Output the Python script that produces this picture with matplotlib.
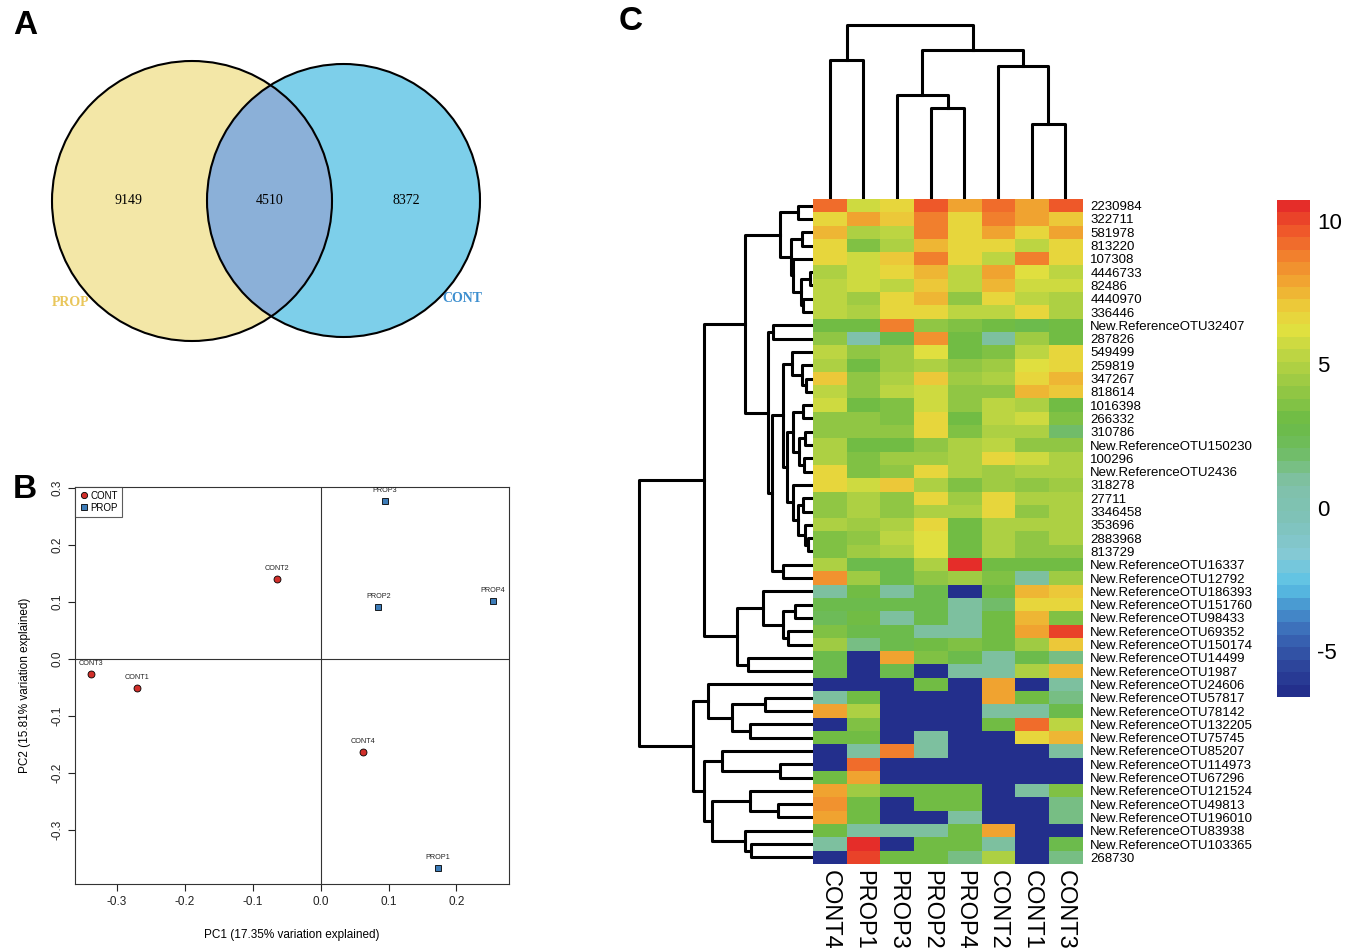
import numpy as np
import matplotlib
matplotlib.use('Agg')
import matplotlib.pyplot as plt
from matplotlib.patches import Circle
from matplotlib.colors import LinearSegmentedColormap

plt.rcParams['font.family'] = ['Liberation Sans', 'DejaVu Sans']
plt.rcParams['axes.unicode_minus'] = False

W, H = 1353, 952

# ---------------- A: venn
venn_sets = ['PROP', 'CONT']
venn_counts = [9149, 4510, 8372]   # PROP only, shared, CONT only

# ---------------- B: PCoA
pc1_label = 'PC1 (17.35% variation explained)'
pc2_label = 'PC2 (15.81% variation explained)'
cont_names = ['CONT1', 'CONT2', 'CONT3', 'CONT4']
cont_pc1 = [-0.270, -0.064, -0.338, 0.062]
cont_pc2 = [-0.051, 0.140, -0.026, -0.163]
prop_names = ['PROP1', 'PROP2', 'PROP3', 'PROP4']
prop_pc1 = [0.173, 0.085, 0.095, 0.254]
prop_pc2 = [-0.366, 0.091, 0.276, 0.101]

# ---------------- C: heatmap (columns/rows in dendrogram order)
samples = ['CONT4', 'PROP1', 'PROP3', 'PROP2', 'PROP4', 'CONT2', 'CONT1', 'CONT3']
otus = ['2230984', '322711', '581978', '813220', '107308', '4446733', '82486',
        '4440970', '336446', 'New.ReferenceOTU32407', '287826', '549499', '259819',
        '347267', '818614', '1016398', '266332', '310786', 'New.ReferenceOTU150230',
        '100296', 'New.ReferenceOTU2436', '318278', '27711', '3346458', '353696',
        '2883968', '813729', 'New.ReferenceOTU16337', 'New.ReferenceOTU12792',
        'New.ReferenceOTU186393', 'New.ReferenceOTU151760', 'New.ReferenceOTU98433',
        'New.ReferenceOTU69352', 'New.ReferenceOTU150174', 'New.ReferenceOTU14499',
        'New.ReferenceOTU1987', 'New.ReferenceOTU24606', 'New.ReferenceOTU57817',
        'New.ReferenceOTU78142', 'New.ReferenceOTU132205', 'New.ReferenceOTU75745',
        'New.ReferenceOTU85207', 'New.ReferenceOTU114973', 'New.ReferenceOTU67296',
        'New.ReferenceOTU121524', 'New.ReferenceOTU49813', 'New.ReferenceOTU196010',
        'New.ReferenceOTU83938', 'New.ReferenceOTU103365', '268730']

abund = [
    [9.0, 5.8, 6.5, 9.8, 8.0, 9.3, 7.8, 9.8],
    [6.5, 7.8, 7.2, 8.8, 6.5, 8.8, 7.8, 7.2],
    [7.3, 4.8, 5.3, 8.8, 6.8, 8.0, 6.5, 8.0],
    [6.5, 3.5, 4.8, 7.5, 6.5, 6.5, 5.3, 6.5],
    [6.5, 5.8, 7.0, 8.8, 6.5, 5.3, 8.8, 6.5],
    [5.0, 5.8, 6.5, 7.5, 5.5, 7.8, 6.3, 5.3],
    [5.3, 5.8, 5.3, 7.0, 5.3, 7.6, 5.8, 5.8],
    [5.5, 4.6, 6.5, 7.5, 4.0, 6.5, 5.5, 4.8],
    [5.3, 5.0, 6.5, 6.5, 5.3, 5.3, 6.8, 4.8],
    [3.3, 3.3, 8.8, 3.8, 3.5, 3.3, 2.8, 3.3],
    [3.8, 0.5, 2.5, 8.5, 3.3, 0.8, 4.5, 3.0],
    [5.5, 4.0, 4.5, 6.3, 3.3, 3.5, 5.3, 6.5],
    [5.0, 3.3, 4.5, 5.0, 4.0, 4.3, 6.3, 6.5],
    [7.0, 4.0, 4.8, 7.0, 4.3, 4.8, 6.5, 7.6],
    [5.2, 4.0, 5.3, 5.8, 4.2, 4.0, 7.5, 7.0],
    [5.8, 3.3, 3.5, 5.8, 3.8, 5.3, 5.0, 3.3],
    [4.2, 3.8, 3.5, 6.5, 3.3, 5.3, 5.8, 3.5],
    [4.2, 3.8, 4.0, 6.5, 3.5, 4.8, 4.8, 2.0],
    [5.0, 3.3, 3.3, 3.8, 5.0, 5.5, 4.2, 4.2],
    [5.0, 3.5, 4.5, 4.5, 5.0, 6.5, 5.8, 4.8],
    [6.5, 3.5, 4.2, 6.5, 5.0, 4.5, 5.0, 4.8],
    [6.5, 5.8, 7.2, 4.8, 3.5, 4.5, 4.2, 4.5],
    [4.0, 4.8, 4.2, 6.5, 4.5, 6.5, 4.8, 5.0],
    [3.8, 4.8, 4.2, 5.0, 4.8, 6.5, 3.8, 5.0],
    [4.8, 4.5, 5.0, 6.5, 3.3, 5.0, 4.8, 5.0],
    [3.5, 4.2, 5.5, 6.3, 3.3, 4.8, 3.8, 5.0],
    [3.5, 4.3, 4.8, 6.3, 3.3, 5.0, 4.2, 4.2],
    [5.0, 2.8, 2.8, 4.8, 10.5, 3.3, 3.3, 3.3],
    [8.3, 4.5, 2.5, 3.8, 4.5, 3.5, 0.8, 4.3],
    [1.0, 3.0, 1.0, 2.8, -6.5, 3.0, 7.5, 7.0],
    [2.8, 2.5, 2.5, 2.8, 1.0, 2.0, 6.5, 6.5],
    [2.3, 3.3, 1.0, 2.8, 1.0, 3.0, 7.5, 3.5],
    [3.5, 2.5, 2.5, 1.0, 1.0, 3.0, 8.0, 10.0],
    [4.3, 1.2, 2.5, 3.3, 3.5, 3.3, 4.5, 7.0],
    [2.8, -6.5, 7.8, 3.5, 2.8, 1.0, 2.8, 1.2],
    [2.8, -6.5, 2.5, -6.5, 1.0, 1.0, 5.0, 7.5],
    [-6.5, -6.5, -6.5, 3.0, -6.5, 7.8, -6.5, 1.0],
    [1.0, 3.0, -6.5, -6.5, -6.5, 7.8, 3.0, 1.2],
    [7.8, 4.8, -6.5, -6.5, -6.5, 1.0, 1.0, 2.8],
    [-6.5, 3.5, -6.5, -6.5, -6.5, 3.0, 9.0, 5.5],
    [3.0, 3.0, -6.5, 1.0, -6.5, -6.5, 6.8, 7.5],
    [-6.5, 1.0, 8.8, 1.0, -6.5, -6.5, -6.5, 1.0],
    [-6.5, 9.0, -6.5, -6.5, -6.5, -6.5, -6.5, -6.5],
    [3.0, 7.8, -6.5, -6.5, -6.5, -6.5, -6.5, -6.5],
    [7.8, 4.5, 3.0, 3.3, 3.0, -6.5, 1.0, 3.5],
    [8.2, 3.3, -6.5, 3.3, 3.3, -6.5, -6.5, 1.2],
    [7.8, 3.3, -6.5, -6.5, 1.0, -6.5, -6.5, 1.2],
    [3.0, 1.0, 1.0, 1.0, 3.0, 7.8, -6.5, -6.5],
    [1.0, 10.7, -6.5, 3.0, 3.0, 1.0, -6.5, 2.8],
    [-6.5, 10.2, 3.0, 3.0, 1.2, 4.8, -6.5, 1.2],
]

# merges like a linkage table: (child a, child b, height); leaves are 0..n-1,
# merge k becomes node n+k
row_merges = [
    (0, 1, 15), (2, 3, 11), (5, 6, 3), (7, 8, 10), (52, 53, 12), (4, 54, 20),
    (51, 55, 22), (50, 56, 33), (9, 10, 40), (13, 14, 7), (12, 59, 11),
    (11, 60, 21), (15, 16, 10), (17, 18, 8), (19, 20, 9), (63, 64, 14),
    (62, 65, 20), (22, 23, 10), (25, 26, 5), (24, 68, 8), (67, 69, 15),
    (21, 70, 20), (66, 71, 26), (61, 72, 30), (27, 28, 30), (73, 74, 41),
    (58, 75, 45), (57, 76, 68), (30, 31, 18), (32, 33, 25), (78, 79, 30),
    (29, 80, 50), (34, 35, 65), (81, 82, 76), (77, 83, 109), (37, 38, 48),
    (39, 40, 63), (85, 86, 81), (36, 87, 105), (42, 43, 33), (41, 89, 91),
    (45, 46, 35), (44, 91, 63), (48, 49, 62), (47, 93, 68), (92, 94, 101),
    (90, 95, 109), (88, 96, 120), (84, 97, 174),
]
col_merges = [
    (0, 1, 139), (3, 4, 91), (2, 9, 104), (6, 7, 75), (5, 11, 133),
    (10, 12, 149), (8, 13, 174),
]

cmap_stops = [
    (-6.6, '#232f8c'), (-5.5, '#2f4a9f'), (-4.5, '#3b6bb8'), (-3.5, '#4a9ad2'),
    (-2.8, '#5bc3e6'), (-1.8, '#84c9d6'), (-0.5, '#7fc2b8'), (0.8, '#80c1a8'),
    (2.0, '#6fbc60'), (3.0, '#6bbb45'), (4.3, '#99c944'), (5.3, '#b9d443'),
    (6.3, '#e1e03f'), (7.0, '#ebd03b'), (7.8, '#f0ae32'), (8.8, '#f2862e'),
    (9.8, '#ef5a2a'), (10.72, '#e52d29'),
]


def px_axes(fig, x0, y0, x1, y1):
    return fig.add_axes([x0 / W, 1 - y1 / H, (x1 - x0) / W, (y1 - y0) / H])


def tree_lines(merges, n):
    pos = {i: i + 0.5 for i in range(n)}
    hgt = {i: 0.0 for i in range(n)}
    out = []
    for k, (a, b, h) in enumerate(merges):
        out.append(([pos[a], pos[a], pos[b], pos[b]], [hgt[a], h, h, hgt[b]]))
        pos[n + k] = (pos[a] + pos[b]) / 2
        hgt[n + k] = h
    return out


fig = plt.figure(figsize=(W / 100, H / 100), dpi=100)

# ---- A
ax = px_axes(fig, 40, 50, 500, 350)
ax.set_xlim(40, 500)
ax.set_ylim(350, 50)
ax.axis('off')
left = Circle((192, 201), 140, facecolor='#f3e7a7', edgecolor='none')
right = Circle((343.5, 200.5), 136.5, facecolor='#7dcfea', edgecolor='none')
ax.add_patch(left)
ax.add_patch(right)
both = Circle((343.5, 200.5), 136.5, facecolor='#8bb0d8', edgecolor='none')
ax.add_patch(both)
both.set_clip_path(left)
for c in [(192, 201, 140), (343.5, 200.5, 136.5)]:
    ax.add_patch(Circle(c[:2], c[2], facecolor='none', edgecolor='black', lw=1.5))
for xx, v in zip([129, 270, 406], venn_counts):
    ax.text(xx, 201, str(v), ha='center', va='center', fontsize=10,
            family='Liberation Serif')
ax.text(71, 302, venn_sets[0], ha='center', va='center', fontsize=10,
        family='Liberation Serif', weight='bold', color='#e9c65a')
ax.text(462, 299, venn_sets[1], ha='center', va='center', fontsize=10,
        family='Liberation Serif', weight='bold', color='#3d8fcf')

# ---- B
ax = px_axes(fig, 75, 487, 509, 884)
ax.set_xlim(-0.3613, 0.2773)
ax.set_ylim(-0.394, 0.301)
ax.axhline(0, color='#333333', lw=0.8)
ax.axvline(0, color='#333333', lw=0.8)
ax.plot(cont_pc1, cont_pc2, 'o', ms=5, mfc='#d12f2a', mec='black', mew=0.6,
        ls='none', label='CONT')
ax.plot(prop_pc1, prop_pc2, 's', ms=4.5, mfc='#3d7cb8', mec='black', mew=0.6,
        ls='none', label='PROP')
for nm, x, y in zip(cont_names + prop_names, cont_pc1 + prop_pc1, cont_pc2 + prop_pc2):
    ax.annotate(nm, (x, y), xytext=(0, 5), textcoords='offset points',
                ha='center', va='bottom', fontsize=5.2, color='#222222')
ax.set_xticks([-0.3, -0.2, -0.1, 0.0, 0.1, 0.2])
ax.set_yticks([-0.3, -0.2, -0.1, 0.0, 0.1, 0.2, 0.3])
ax.tick_params(direction='out', length=5, width=0.8, labelsize=8.5, colors='#222222')
for t in ax.get_yticklabels():
    t.set_rotation(90)
    t.set_va('center')
for s in ax.spines.values():
    s.set_linewidth(0.8)
    s.set_color('#333333')
ax.set_xlabel(pc1_label, fontsize=8.5)
ax.set_ylabel(pc2_label, fontsize=8.5)
ax.xaxis.set_label_coords(0.5, -0.128)
ax.xaxis.label.set_va('center')
ax.yaxis.set_label_coords(-0.115, 0.5)
ax.yaxis.label.set_va('center')
leg = ax.legend(loc='upper left', fontsize=7, frameon=True, fancybox=False,
                borderaxespad=0, handletextpad=0.2, borderpad=0.4,
                labelspacing=0.2, handlelength=1.0, markerscale=0.9)
leg.get_frame().set_edgecolor('#333333')
leg.get_frame().set_linewidth(0.8)

# ---- C
cm = LinearSegmentedColormap.from_list(
    'hm', [((v - cmap_stops[0][0]) / (cmap_stops[-1][0] - cmap_stops[0][0]), c)
           for v, c in cmap_stops], N=40)
vmin, vmax = cmap_stops[0][0], cmap_stops[-1][0]

ax = px_axes(fig, 813, 199, 1082, 864)
im = ax.imshow(np.array(abund), cmap=cm, vmin=vmin, vmax=vmax, aspect='auto',
               interpolation='nearest')
ax.set_yticks(range(len(otus)))
ax.set_yticklabels(otus, fontsize=9.5)
ax.yaxis.tick_right()
ax.set_xticks(range(len(samples)))
ax.set_xticklabels(samples, fontsize=17, rotation=270)
ax.tick_params(length=0)
ax.tick_params(axis='y', pad=6)
ax.tick_params(axis='x', pad=4)
for s in ax.spines.values():
    s.set_visible(False)

# row dendrogram
ax = px_axes(fig, 630, 199, 813, 864)
for ys, xs in tree_lines(row_merges, len(otus)):
    ax.plot(xs, ys, color='black', lw=2.2, solid_capstyle='projecting')
ax.set_xlim(183, 0)
ax.set_ylim(len(otus), 0)
ax.axis('off')

# column dendrogram
ax = px_axes(fig, 813, 20, 1082, 199)
for xs, ys in tree_lines(col_merges, len(samples)):
    ax.plot(xs, ys, color='black', lw=2.2, solid_capstyle='projecting')
ax.set_xlim(0, len(samples))
ax.set_ylim(0, 179)
ax.axis('off')

cax = px_axes(fig, 1277, 200, 1310, 697)
cb = fig.colorbar(im, cax=cax, ticks=[-5, 0, 5, 10])
cb.outline.set_visible(False)
cax.tick_params(length=0, labelsize=16, pad=5)

for lab, x, y in [('A', 25, 25), ('B', 25, 490), ('C', 631, 22)]:
    fig.text(x / W, 1 - y / H, lab, fontsize=24, weight='bold', ha='center', va='center')

fig.savefig('out.png', dpi=100)
